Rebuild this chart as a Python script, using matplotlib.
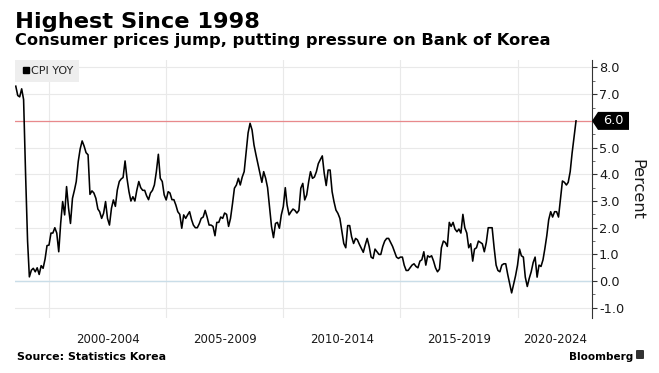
import matplotlib
matplotlib.use("Agg")
import matplotlib.pyplot as plt
import matplotlib.transforms as mtransforms
from matplotlib.lines import Line2D
from matplotlib.patches import Polygon, FancyBboxPatch
import pandas as pd

# ---------------- data ----------------
series_name = "CPI YOY"
start_month = "1998-07"
cpi_yoy = [
    # 1998 Jul-Dec
    7.3, 6.95, 6.9, 7.2, 6.8, 4.0,
    # 1999
    1.5, 0.16, 0.41, 0.48, 0.35, 0.5, 0.25, 0.58, 0.48, 0.83, 1.33, 1.35,
    # 2000
    1.8, 1.8, 2.0, 1.8, 1.1, 2.16, 2.98, 2.48, 3.54, 2.73, 2.16, 3.1,
    # 2001
    3.41, 3.73, 4.48, 4.95, 5.25, 5.06, 4.81, 4.73, 3.25, 3.38, 3.3, 3.1,
    # 2002
    2.7, 2.6, 2.35, 2.54, 2.98, 2.35, 2.1, 2.73, 3.04, 2.8, 3.41, 3.73,
    # 2003
    3.83, 3.88, 4.5, 3.85, 3.35, 3.0, 3.16, 3.0, 3.4, 3.73, 3.5, 3.4,
    # 2004
    3.4, 3.2, 3.05, 3.3, 3.4, 3.6, 4.1, 4.75, 3.85, 3.73, 3.23, 3.04,
    # 2005
    3.35, 3.3, 3.05, 3.05, 2.85, 2.6, 2.5, 1.98, 2.48, 2.35, 2.48, 2.6,
    # 2006
    2.3, 2.1, 2.0, 2.0, 2.15, 2.35, 2.4, 2.65, 2.4, 2.1, 2.1, 2.05,
    # 2007
    1.7, 2.2, 2.2, 2.4, 2.35, 2.55, 2.5, 2.05, 2.35, 2.9, 3.48, 3.6,
    # 2008
    3.85, 3.6, 3.9, 4.1, 4.85, 5.55, 5.91, 5.66, 5.1, 4.73, 4.4, 4.05,
    # 2009
    3.7, 4.1, 3.85, 3.5, 2.75, 2.05, 1.63, 2.16, 2.2, 1.98, 2.48, 2.79,
    # 2010
    3.5, 2.85, 2.48, 2.6, 2.7, 2.65, 2.55, 2.65, 3.48, 3.66, 3.04, 3.23,
    # 2011
    3.73, 4.1, 3.85, 3.9, 4.1, 4.4, 4.55, 4.69, 4.04, 3.58, 4.16, 4.16,
    # 2012
    3.35, 2.98, 2.66, 2.54, 2.35, 1.9, 1.41, 1.25, 2.08, 2.08, 1.66, 1.41,
    # 2013
    1.6, 1.55, 1.38, 1.23, 1.08, 1.35, 1.6, 1.3, 0.9, 0.85, 1.2, 1.1,
    # 2014
    1.0, 1.0, 1.3, 1.5, 1.6, 1.6, 1.45, 1.3, 1.1, 0.9, 0.85, 0.9,
    # 2015
    0.9, 0.6, 0.4, 0.4, 0.5, 0.6, 0.65, 0.55, 0.5, 0.75, 0.8, 1.1,
    # 2016
    0.6, 0.95, 0.9, 0.95, 0.75, 0.5, 0.35, 0.45, 1.25, 1.5, 1.45, 1.3,
    # 2017
    2.2, 2.05, 2.2, 1.95, 1.85, 1.95, 1.8, 2.5, 2.0, 1.8, 1.25, 1.4,
    # 2018
    0.75, 1.2, 1.25, 1.5, 1.45, 1.4, 1.1, 1.45, 2.0, 2.0, 2.0, 1.25,
    # 2019
    0.6, 0.4, 0.35, 0.6, 0.65, 0.65, 0.25, -0.1, -0.44, -0.12, 0.2, 0.6,
    # 2020
    1.2, 0.95, 0.9, 0.15, -0.2, 0.1, 0.35, 0.7, 0.9, 0.15, 0.6, 0.55,
    # 2021
    0.8, 1.2, 1.7, 2.3, 2.6, 2.4, 2.6, 2.6, 2.4, 3.1, 3.75, 3.7,
    # 2022 Jan-Jun
    3.6, 3.7, 4.1, 4.8, 5.4, 6.0,
]
period_labels = ["2000-2004", "2005-2009", "2010-2014", "2015-2019", "2020-2024"]
period_starts = [2000, 2005, 2010, 2015, 2020]
y_ticks = [-1, 0, 1, 2, 3, 4, 5, 6, 7, 8]
highlight_value = 6.0
x_range = ("1998-07-19", "2023-03-06")
y_range = (-1.38, 8.28)

title = "Highest Since 1998"
subtitle = "Consumer prices jump, putting pressure on Bank of Korea"
source = "Source: Statistics Korea"
brand = "Bloomberg"
y_label = "Percent"

# ---------------- figure ----------------
W, H = 659, 373
fig = plt.figure(figsize=(W / 100, H / 100), dpi=100)
fig.patch.set_facecolor("white")
ax = fig.add_axes([15 / W, 1 - 318 / H, (592 - 15) / W, (318 - 60) / H])

dates = pd.date_range(start=start_month, periods=len(cpi_yoy), freq="ME")
ax.plot(dates, cpi_yoy, color="black", lw=1.15, zorder=4, solid_joinstyle="round")

x0, x1 = pd.Timestamp(x_range[0]), pd.Timestamp(x_range[1])
ax.set_xlim(x0, x1)
ax.set_ylim(*y_range)

# reference lines
ax.axhline(highlight_value, color="#e8898c", lw=0.9, zorder=3)
ax.axhline(0, color="#c9dde8", lw=1.0, zorder=2)

# y axis on the right
ax.set_yticks(y_ticks)
ax.set_yticklabels(["" if v == highlight_value else f"{v:.1f}" for v in y_ticks])
ax.yaxis.set_minor_locator(matplotlib.ticker.MultipleLocator(0.5))
ax.yaxis.tick_right()
ax.yaxis.set_label_position("right")
ax.grid(axis="y", which="major", color="#e9e9e9", lw=0.8, zorder=1)

# x axis: gridlines at period starts, labels centred in each period
major_x = [pd.Timestamp(f"{y}-01-01") for y in period_starts]
ax.set_xticks(major_x)
ax.set_xticklabels([""] * len(major_x))
ax.grid(axis="x", which="major", color="#e9e9e9", lw=0.8, zorder=1)
centers = []
for y in period_starts:
    a = pd.Timestamp(f"{y}-01-01")
    b = min(pd.Timestamp(f"{y + 5}-01-01"), x1)
    centers.append(a + (b - a) / 2)
ax.set_xticks(centers, minor=True)
ax.set_xticklabels(period_labels, minor=True)
ax.tick_params(axis="x", which="both", length=0)
ax.tick_params(axis="x", which="minor", pad=11, labelsize=8.5, labelcolor="#1a1a1a")

ax.tick_params(axis="y", which="major", direction="out", length=3.5, width=0.8,
               color="#333333", pad=1.5, labelsize=9.3, labelcolor="#1a1a1a")
ax.tick_params(axis="y", which="minor", direction="out", length=2, width=0.6, color="#555555")

for s in ["left", "top", "bottom"]:
    ax.spines[s].set_visible(False)
ax.spines["right"].set_color("#333333")
ax.spines["right"].set_linewidth(0.8)

ax.set_ylabel(y_label, rotation=270, fontsize=11.6, color="#1a1a1a", labelpad=4, va="bottom")

# legend
handle = Line2D([], [], marker="s", color="black", linestyle="none", markersize=4.5)
leg = ax.legend([handle], [series_name], loc="upper left", frameon=True, fancybox=False,
                borderaxespad=0, handletextpad=0.05, handlelength=0.8, borderpad=0.55,
                fontsize=8, labelcolor="#222222")
leg.get_frame().set_facecolor("#eeeeee")
leg.get_frame().set_edgecolor("none")
leg.get_frame().set_alpha(1)

# last value tag on the axis
blend = mtransforms.blended_transform_factory(ax.transAxes, ax.transData)
tag_tr = mtransforms.Affine2D() + mtransforms.ScaledTranslation(1, highlight_value, blend)
tag = Polygon([(0, 0), (6, 9), (37, 9), (37, -9), (6, -9)], closed=True,
              facecolor="black", edgecolor="none", transform=tag_tr, clip_on=False, zorder=6)
ax.add_patch(tag)
ax.annotate(f"{highlight_value:.1f}", xy=(1, highlight_value), xycoords=blend,
            xytext=(15.5, 0), textcoords="offset points", ha="center", va="center",
            color="white", fontsize=9.3, zorder=7, annotation_clip=False)

# titles and footer
fig.text(15 / W, 1 - 28.5 / H, title, fontsize=16.2, fontweight="bold", va="baseline", ha="left")
fig.text(15 / W, 1 - 45.5 / H, subtitle, fontsize=11.7, fontweight="bold", va="baseline", ha="left")
fig.text(17 / W, 1 - 360 / H, source, fontsize=7.9, fontweight="bold", va="baseline", ha="left")
fig.text(633 / W, 1 - 360 / H, brand, fontsize=7.5, fontweight="bold", va="baseline", ha="right")
logo = FancyBboxPatch((636 / W, 1 - 359 / H), 8 / W, 9 / H, boxstyle="round,pad=0,rounding_size=0.002",
                      transform=fig.transFigure, facecolor="#333333", edgecolor="none")
fig.patches.append(logo)

fig.savefig("out.png", dpi=100)
